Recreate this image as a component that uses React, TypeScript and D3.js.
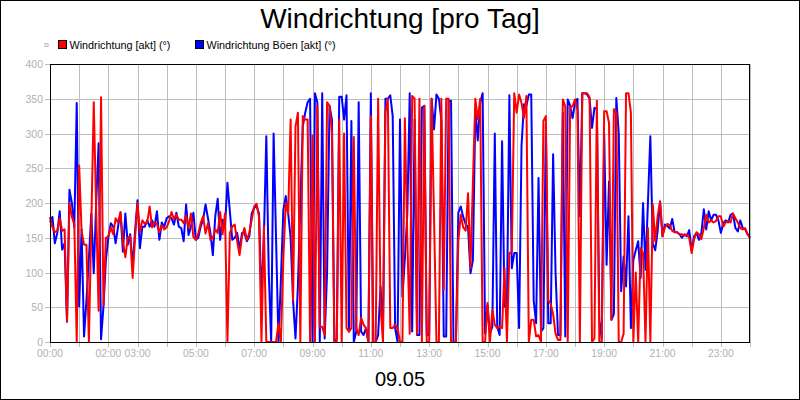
import React from "react";
import * as d3 from "d3";

const TITLE = "Windrichtung [pro Tag]";
const DATE_LABEL = "09.05";
const SERIES_NAMES = ["Windrichtung [akt] (°)", "Windrichtung Böen [akt] (°)"];
const SERIES_COLORS = ["#ff0000", "#0000ff"];
const STEP_MINUTES = 5;
const Y_TICKS = [0, 50, 100, 150, 200, 250, 300, 350, 400];
const X_LABEL_HOURS = [0, 2, 3, 5, 7, 9, 11, 13, 15, 17, 19, 21, 23];
const HOURS = d3.range(0, 25);

const windDir = [
  180, 165, 158, 160, 178, 160, 162, 30, 200, 180, 170, 0, 254, 160, 140, 140, 0, 170, 345, 190,
  45, 352, 53, 150, 152, 165, 155, 178, 172, 187, 145, 122, 150, 152, 92, 150, 200, 158, 175, 170,
  172, 195, 165, 172, 170, 158, 168, 162, 165,
  174, 187, 177, 183, 176, 176, 171, 182, 164, 185, 151, 147, 156, 171, 181, 156, 171, 147, 150, 162,
  157, 187, 155, 185, 0, 157, 166, 169, 145, 125, 152, 164, 147, 157, 176, 195, 199, 180, 0, 167,
  0, 0, 0, 0, 0, 27, 0, 120, 200, 185,
  320, 60, 310, 330, 0, 325, 320, 320, 0, 297, 0, 340, 22, 22, 10, 345, 340, 300, 0, 0,
  320, 0, 300, 20, 15, 20, 295, 20, 10, 35, 25, 20, 0, 325, 0, 0, 350, 50, 0, 330,
  350, 20, 20, 25, 20, 0,
  0, 322, 150, 12, 354, 350, 12, 350, 0, 340, 0, 0, 350, 180, 0, 0, 350, 75, 350, 350,
  0, 0, 0, 145, 183, 165, 160, 214, 106, 230, 350, 320, 350, 0, 0, 56, 0, 46, 25, 20,
  22, 20, 106, 0, 128, 130, 358, 330,
  356, 344, 322, 354, 0, 32, 32, 8, 10, 0, 318, 325, 60, 55, 40, 12, 3, 3, 349, 339,
  0, 339, 339, 349, 334, 0, 358, 358, 358, 352, 0, 5, 347, 0, 0, 332, 332, 315, 32, 335,
  330, 0, 0, 12, 358, 358, 330, 0, 100, 0, 135, 128, 0, 164, 0, 198, 145, 181, 202,
  152, 165, 170, 168, 160, 158, 158, 155, 155, 153, 155, 150, 128, 148, 158, 155, 148, 164, 183, 172,
  175, 172, 174, 181, 181, 166, 172, 174, 172, 185, 178, 172, 164, 162, 164, 155, 150,
];

const gustDir = [
  172, 180, 142, 157, 188, 133, 142, 29, 219, 200, 165, 344, 51, 162, 8, 60, 120, 185, 99, 200,
  286, 4, 51, 118, 150, 171, 166, 142, 166, 186, 130, 185, 140, 155, 109, 160, 204, 135, 166, 166,
  175, 166, 175, 166, 188, 147, 172, 166, 178,
  181, 178, 169, 186, 166, 164, 145, 198, 154, 166, 186, 147, 150, 166, 176, 198, 178, 157, 125, 181,
  206, 147, 176, 166, 229, 188, 147, 150, 157, 133, 157, 157, 145, 152, 185, 193, 195, 185, 63, 150,
  296, 100, 0, 300, 150, 0, 90, 190, 210, 185,
  150, 60, 5, 80, 200, 310, 330, 345, 350, 0, 358, 345, 0, 358, 5, 100, 340, 320, 0, 5,
  353, 353, 320, 355, 15, 318, 0, 15, 345, 15, 10, 20, 0, 358, 0, 0, 10, 80, 15, 350,
  350, 355, 325, 20, 0, 320,
  65, 120, 183, 358, 15, 320, 10, 10, 337, 340, 10, 10, 350, 306, 356, 350, 320, 8, 8, 347,
  347, 0, 0, 186, 195, 180, 170, 165, 99, 118, 335, 290, 345, 358, 12, 53, 12, 22, 300, 22,
  10, 289, 51, 51, 355, 106, 128,
  128, 20, 282, 342, 340, 356, 356, 60, 27, 236, 15, 20, 313, 27, 27, 270, 100, 10, 10, 330,
  8, 349, 340, 322, 344, 350, 181, 358, 358, 356, 350, 308, 337, 335, 32, 5, 300, 111, 231, 32,
  40, 351, 300, 73, 123, 80, 181, 20,
  118, 132, 145, 92, 200, 104, 200, 296, 142, 132, 160, 202, 152, 169, 167, 163, 177, 158, 158, 155,
  150, 155, 152, 161, 132, 152, 157, 147, 157, 191, 162, 188, 175, 183, 183, 175, 157, 171, 175, 172,
  183, 185, 164, 159, 175, 164, 162, 155, 150,
];

const pad = (h: number) => (h < 10 ? "0" + h : "" + h) + ":00";

export default function App() {
  const left = 50, right = 750, top = 64, bottom = 342;
  const x = d3.scaleLinear().domain([0, 24 * 60]).range([left, right]);
  const y = d3.scaleLinear().domain([0, 400]).range([bottom, top]);
  const line = d3
    .line<number>()
    .x((_, i) => x(i * STEP_MINUTES))
    .y((d) => y(d));
  const gray = "#bdbdbd";
  const labelGray = "#b0b0b0";
  const font = "'Liberation Sans', Arial, sans-serif";

  return (
    <div>
      <style>{`body{margin:0}`}</style>
      <svg width={800} height={400} style={{ display: "block", fontFamily: font }}>
        <rect x={0.5} y={0.5} width={799} height={399} fill="#fff" stroke="#000" />
        <text x={400} y={28} textAnchor="middle" fontSize={28} fill="#000">
          {TITLE}
        </text>
        {/* legend */}
        <rect x={45} y={43.5} width={3} height={3} fill="none" stroke="#bbb" strokeWidth={1} />
        {SERIES_NAMES.map((name, k) => {
          const lx = k === 0 ? 58.5 : 195.5;
          return (
            <g key={name}>
              <rect x={lx} y={40.5} width={8} height={8} fill={SERIES_COLORS[k]} stroke="#000" strokeWidth={1} />
              <text x={lx + 11} y={49} fontSize={10.8} fill="#000">
                {name}
              </text>
            </g>
          );
        })}
        {/* grid */}
        {Y_TICKS.map((t) => (
          <g key={"y" + t}>
            <line x1={left} x2={right} y1={Math.round(y(t)) + 0.5} y2={Math.round(y(t)) + 0.5} stroke={gray} />
            <line x1={left - 5} x2={left} y1={Math.round(y(t)) + 0.5} y2={Math.round(y(t)) + 0.5} stroke={gray} />
            <text x={left - 7} y={y(t) + 4} textAnchor="end" fontSize={10.5} fill={labelGray}>
              {t}
            </text>
          </g>
        ))}
        {HOURS.map((h) => (
          <g key={"x" + h}>
            <line x1={Math.round(x(h * 60)) + 0.5} x2={Math.round(x(h * 60)) + 0.5} y1={top} y2={bottom} stroke={gray} />
            <line x1={Math.round(x(h * 60)) + 0.5} x2={Math.round(x(h * 60)) + 0.5} y1={bottom} y2={bottom + 5} stroke={gray} />
          </g>
        ))}
        {X_LABEL_HOURS.map((h) => (
          <text key={"xl" + h} x={x(h * 60)} y={357} textAnchor="middle" fontSize={10.3} fill={labelGray}>
            {pad(h)}
          </text>
        ))}
        {/* series */}
        <g>
          <path d={line(gustDir) || ""} fill="none" stroke={SERIES_COLORS[1]} strokeWidth={2} strokeLinejoin="round" />
          <path d={line(windDir) || ""} fill="none" stroke={SERIES_COLORS[0]} strokeWidth={2} strokeLinejoin="round" />
        </g>
        <rect x={left + 0.5} y={top + 0.5} width={right - left - 1} height={bottom - top} fill="none" stroke="#000" />
        <text x={400} y={386} textAnchor="middle" fontSize={20} fill="#000">
          {DATE_LABEL}
        </text>
      </svg>
    </div>
  );
}
